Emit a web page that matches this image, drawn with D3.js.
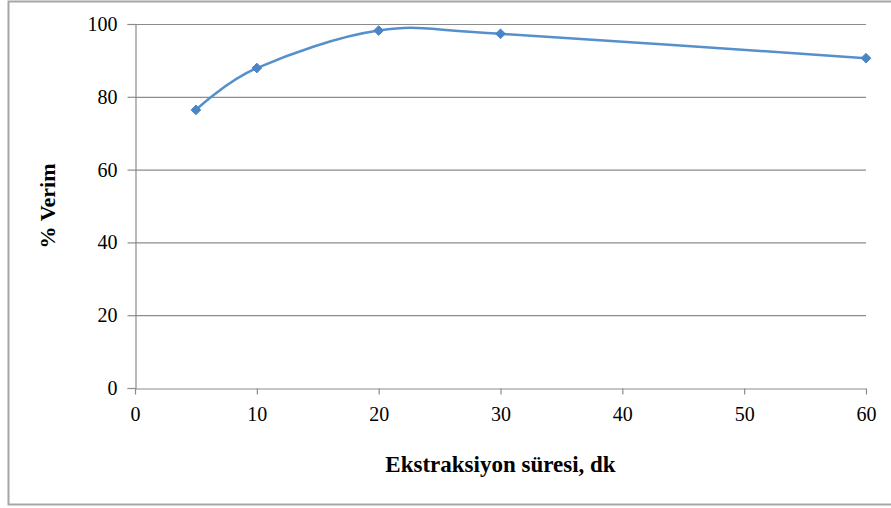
<!DOCTYPE html>
<html><head><meta charset="utf-8">
<script src="https://cdn.jsdelivr.net/npm/d3@7/dist/d3.min.js"></script>
<style>body{margin:0;background:#fff}svg{display:block}
svg text{font-family:"Liberation Serif","Times New Roman",Tinos,"DejaVu Serif",serif !important;}</style>
</head><body>
<svg id="c" width="891" height="508"></svg>
<script>
const xValues = [5, 10, 20, 30, 60];
const yValues = [76.4, 87.9, 98.2, 97.3, 90.6];
const xTicks = [0, 10, 20, 30, 40, 50, 60];
const yTicks = [0, 20, 40, 60, 80, 100];
const xTitle = "Ekstraksiyon süresi, dk";
const yTitle = "% Verim";

const svg = d3.select("#c");

svg.append("rect").attr("x", 8.5).attr("y", 1.5).attr("width", 900).attr("height", 503)
  .attr("fill", "#fff").attr("stroke", "#a6a6a6").attr("stroke-width", 2);

const x = d3.scaleLinear().domain([0, 60]).range([135, 866]);
const y = d3.scaleLinear().domain([0, 100]).range([388, 24]);

// gridlines
svg.append("g").selectAll("line").data(yTicks.filter(d => d > 0)).join("line")
  .attr("x1", x(0)).attr("x2", x(60)).attr("y1", d => y(d) + 0.5).attr("y2", d => y(d) + 0.5)
  .attr("stroke", "#8c8c8c").attr("stroke-width", 1.2);

// y axis
const yAxis = svg.append("g").attr("transform", `translate(${x(0)+0.5},0)`)
  .call(d3.axisLeft(y).tickValues(yTicks).tickSize(8).tickPadding(10));
yAxis.select(".domain").attr("stroke", "#8c8c8c").attr("stroke-width", 1.2);
yAxis.selectAll(".tick line").attr("stroke", "#8c8c8c").attr("stroke-width", 1.2);
yAxis.selectAll("text").attr("font-size", 20).attr("fill", "#000");

// x axis
const xAxis = svg.append("g").attr("transform", `translate(0,${y(0)+0.5})`)
  .call(d3.axisBottom(x).tickValues(xTicks).tickSize(6).tickSizeOuter(0).tickPadding(12));
xAxis.select(".domain").attr("stroke", "#8c8c8c").attr("stroke-width", 1.2);
xAxis.selectAll(".tick line").attr("stroke", "#8c8c8c").attr("stroke-width", 1.2);
xAxis.selectAll("text").attr("font-size", 20).attr("fill", "#000");

// line
const pts = xValues.map((v, i) => [v, yValues[i]]);
svg.append("path").datum(pts)
  .attr("d", d3.line().x(d => x(d[0])).y(d => y(d[1])).curve(d3.curveCardinal.tension(0)))
  .attr("fill", "none").attr("stroke", "#5590cc").attr("stroke-width", 2.5);

svg.append("g").selectAll("path").data(pts).join("path")
  .attr("transform", d => `translate(${x(d[0])},${y(d[1])})`)
  .attr("d", d3.symbol().type(d3.symbolDiamond2).size(60))
  .attr("fill", "#4a86c5").attr("stroke", "#4a86c5").attr("stroke-width", 1);

// titles
svg.append("text").attr("x", (x(0) + x(60)) / 2).attr("y", 472).attr("text-anchor", "middle")
  .attr("font-size", 23).attr("font-weight", "bold").text(xTitle);
svg.append("text").attr("transform", `translate(55,${(y(0)+y(100))/2}) rotate(-90)`)
  .attr("text-anchor", "middle").attr("font-size", 22)
  .attr("font-weight", "bold").text(yTitle);
</script>
</body></html>
